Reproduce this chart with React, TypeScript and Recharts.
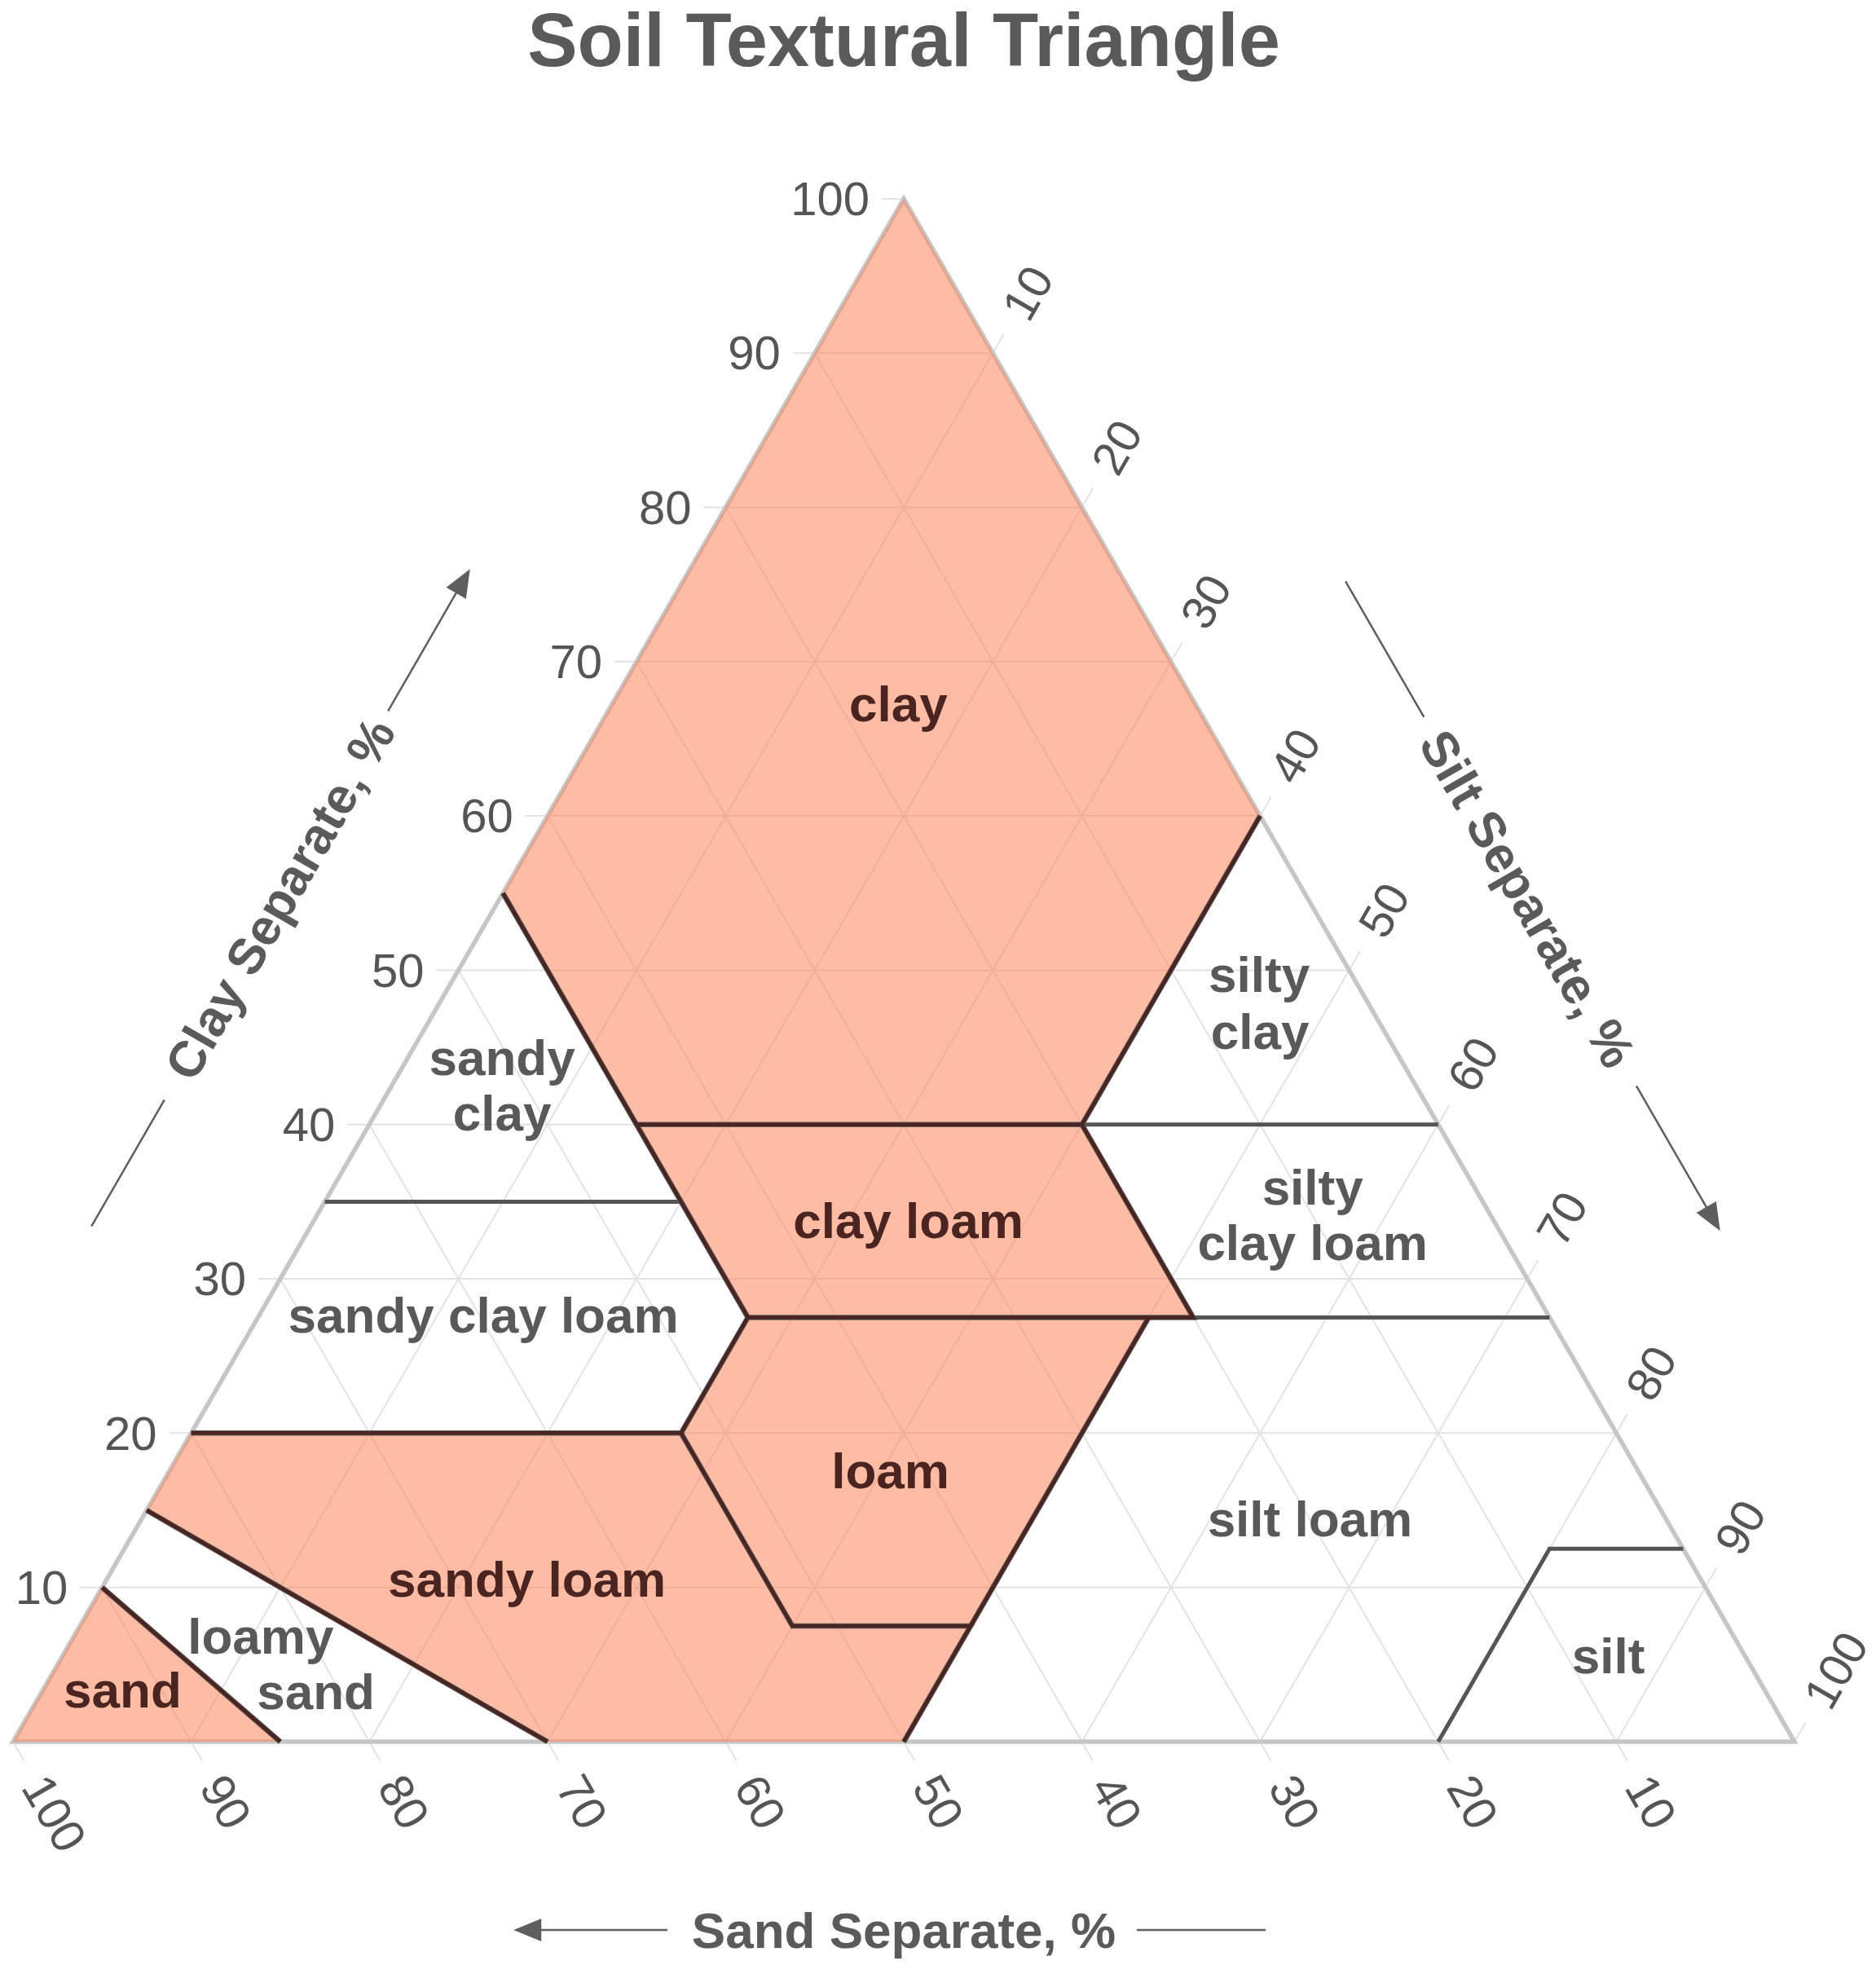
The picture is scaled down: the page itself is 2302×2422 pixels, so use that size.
import React from 'react';
import { ScatterChart, Scatter, XAxis, YAxis } from 'recharts';

// ---------- geometry of the drawing surface ----------
const W = 2302;
const H = 2422;
const LEFT = 16; // px of the sand=100 vertex
const BASE = 2137; // px of the bottom edge
const SIDE = 2186; // px length of a triangle side
const TRI_H = (SIDE * Math.sqrt(3)) / 2;
const UX = SIDE / 100;
const UY = TRI_H / 100;
const X_DOMAIN: [number, number] = [-LEFT / UX, (W - LEFT) / UX];
const Y_DOMAIN: [number, number] = [-(H - BASE) / UY, BASE / UY];

type T = [number, number, number]; // [sand, silt, clay] %
const toXY = (t: T) => ({ x: t[1] + t[2] / 2, y: t[2] });

const FONT = '"Liberation Sans", Arial, Helvetica, sans-serif';
const GRID = '#e3e3e3';
const OUTLINE = '#c6c6c6';
const FILL = '#FB8558';
const BROWN = '#4a2420';
const GREY_LINE = '#555555';
const TEXT = '#555555';

// ---------- data ----------
const tickValues = [10, 20, 30, 40, 50, 60, 70, 80, 90, 100];

const regionNames = [
  'sand', 'loamy sand', 'sandy loam', 'loam', 'silt loam', 'silt',
  'sandy clay loam', 'clay loam', 'silty clay loam', 'sandy clay', 'silty clay', 'clay',
];
const regionShaded = [true, false, true, true, false, false, false, true, false, false, false, true];
const regionVertices: T[][] = [
  [[100, 0, 0], [85, 15, 0], [90, 0, 10]],
  [[85, 15, 0], [70, 30, 0], [85, 0, 15], [90, 0, 10]],
  [[70, 30, 0], [50, 50, 0], [42.5, 50, 7.5], [52.5, 40, 7.5], [52.5, 27.5, 20], [80, 0, 20], [85, 0, 15]],
  [[52.5, 40, 7.5], [42.5, 50, 7.5], [22.5, 50, 27.5], [45, 27.5, 27.5], [52.5, 27.5, 20]],
  [[50, 50, 0], [20, 80, 0], [7.5, 80, 12.5], [0, 87.5, 12.5], [0, 72.5, 27.5], [22.5, 50, 27.5], [42.5, 50, 7.5]],
  [[20, 80, 0], [0, 100, 0], [0, 87.5, 12.5], [7.5, 80, 12.5]],
  [[80, 0, 20], [52.5, 27.5, 20], [45, 27.5, 27.5], [45, 20, 35], [65, 0, 35]],
  [[45, 27.5, 27.5], [20, 52.5, 27.5], [20, 40, 40], [45, 15, 40]],
  [[20, 52.5, 27.5], [0, 72.5, 27.5], [0, 60, 40], [20, 40, 40]],
  [[65, 0, 35], [45, 20, 35], [45, 0, 55]],
  [[20, 40, 40], [0, 60, 40], [0, 40, 60]],
  [[45, 0, 55], [45, 15, 40], [20, 40, 40], [0, 40, 60], [0, 0, 100]],
];
const regionLabelLines: string[][] = [
  ['sand'], ['loamy', 'sand'], ['sandy loam'], ['loam'], ['silt loam'], ['silt'],
  ['sandy clay loam'], ['clay loam'], ['silty', 'clay loam'], ['sandy', 'clay'], ['silty', 'clay'], ['clay'],
];
const regionLabelAt: T[][] = [
  [[92.2, 4.5, 3.3]],
  [[82.7, 10.5, 6.8], [81.4, 15.4, 3.2]],
  [[65.9, 23.6, 10.5]],
  [[42.0, 40.5, 17.5]],
  [[20.0, 65.6, 14.4]],
  [[7.6, 86.8, 5.5]],
  [[59.8, 12.6, 27.6]],
  [[32.9, 33.4, 33.7]],
  [[9.1, 55.0, 35.9], [10.9, 56.8, 32.3]],
  [[50.4, 5.3, 44.3], [52.2, 7.1, 40.7]],
  [[5.2, 45.1, 49.7], [7.1, 47.0, 46.0]],
  [[16.7, 16.1, 67.2]],
];

// interior class boundaries
const brownBoundaries: T[][] = [
  [[85, 15, 0], [90, 0, 10]],
  [[70, 30, 0], [85, 0, 15]],
  [[80, 0, 20], [52.5, 27.5, 20], [52.5, 40, 7.5], [42.5, 50, 7.5], [50, 50, 0]],
  [[52.5, 27.5, 20], [45, 27.5, 27.5], [20, 52.5, 27.5], [20, 40, 40]],
  [[42.5, 50, 7.5], [22.5, 50, 27.5]],
  [[45, 27.5, 27.5], [45, 0, 55]],
  [[45, 15, 40], [20, 40, 40], [0, 40, 60]],
];
const greyBoundaries: T[][] = [
  [[65, 0, 35], [45, 20, 35]],
  [[20, 40, 40], [0, 60, 40]],
  [[20, 52.5, 27.5], [0, 72.5, 27.5]],
  [[20, 80, 0], [7.5, 80, 12.5], [0, 87.5, 12.5]],
];
const outlineVertices: T[] = [[100, 0, 0], [0, 100, 0], [0, 0, 100]];

// annotations (chart-data coordinates: x along the base, y = clay %)
const chartTitle = { x: 50, y: (BASE - 81) / UY, label: 'Soil Textural Triangle' };
const axisTitles = [
  { x: 14.95, y: 54.65, label: 'Clay Separate, %', rot: -60 },
  { x: 85.05, y: 54.65, label: 'Silt Separate, %', rot: 60 },
  { x: 50, y: -12.2, label: 'Sand Separate, %', rot: 0 },
];
const axisArrowLines = [
  { pts: [{ x: 4.4, y: 33.4 }, { x: 8.5, y: 41.6 }], arrow: false },
  { pts: [{ x: 21.05, y: 66.8 }, { x: 25.65, y: 76.0 }], arrow: true },
  { pts: [{ x: 74.8, y: 75.2 }, { x: 79.2, y: 66.4 }], arrow: false },
  { pts: [{ x: 91.125, y: 42.5 }, { x: 95.825, y: 33.1 }], arrow: true },
  { pts: [{ x: 36.73, y: -12.2 }, { x: 28.1, y: -12.2 }], arrow: true },
  { pts: [{ x: 63.08, y: -12.2 }, { x: 70.31, y: -12.2 }], arrow: false },
];

// ---------- derived series ----------
const EXT = 27 / UX;
const gridLines = tickValues.flatMap((v) => [
  [toXY([0, 100 - v, v]), toXY([100 - v + EXT, -EXT, v])],
  [toXY([100 - v, v, 0]), toXY([-EXT, v, 100 - v + EXT])],
  [toXY([v, 0, 100 - v]), toXY([v, 100 - v + EXT, -EXT])],
]);
const clayTicks = tickValues.map((v) => ({ ...toXY([100 - v, 0, v]), label: String(v) }));
const siltTicks = tickValues.map((v) => ({ ...toXY([0, v, 100 - v]), label: String(v) }));
const sandTicks = tickValues.map((v) => ({ ...toXY([v, 100 - v, 0]), label: String(v) }));
const regionLabels = regionNames.flatMap((name, i) =>
  regionLabelLines[i].map((txt, j) => ({ ...toXY(regionLabelAt[i][j]), label: txt, shaded: regionShaded[i], region: name }))
);

// ---------- renderers ----------
type P = { x: number; y: number };
const pathOf = (pts: P[], close: boolean) =>
  pts.map((p, i) => `${i ? 'L' : 'M'}${p.x.toFixed(2)},${p.y.toFixed(2)}`).join(' ') + (close ? ' Z' : '');

const lineRenderer =
  (o: { fill?: string; fillOpacity?: number; stroke?: string; strokeWidth?: number; close?: boolean; arrow?: boolean }) =>
  (props: any) => {
    const pts: P[] = (props.points || []).filter((p: any) => p && p.x != null && p.y != null);
    if (pts.length < 2) return <g />;
    let linePts = pts;
    let head: React.ReactNode = null;
    if (o.arrow) {
      const a = pts[pts.length - 2];
      const b = pts[pts.length - 1];
      const len = Math.hypot(b.x - a.x, b.y - a.y) || 1;
      const ux = (b.x - a.x) / len;
      const uy = (b.y - a.y) / len;
      const HL = 34;
      const HW = 14;
      const bx = b.x - ux * HL;
      const by = b.y - uy * HL;
      linePts = [...pts.slice(0, -1), { x: bx + ux * 2, y: by + uy * 2 }];
      head = (
        <polygon
          points={`${b.x},${b.y} ${bx - uy * HW},${by + ux * HW} ${bx + uy * HW},${by - ux * HW}`}
          fill={o.stroke}
        />
      );
    }
    return (
      <g>
        <path
          d={pathOf(linePts, !!o.close)}
          fill={o.fill || 'none'}
          fillOpacity={o.fillOpacity ?? 1}
          stroke={o.stroke || 'none'}
          strokeWidth={o.strokeWidth || 0}
          strokeLinejoin="miter"
          strokeLinecap="butt"
        />
        {head}
      </g>
    );
  };

const noShape = () => <g />;

const clayTickShape = (p: any) => (
  <text x={p.cx - 42} y={p.cy} dy="0.35em" textAnchor="end" fontFamily={FONT} fontSize={58} fill={TEXT}>
    {p.payload.label}
  </text>
);
const siltTickShape = (p: any) => {
  const x = p.cx + 53 * 0.5;
  const y = p.cy - 53 * 0.866;
  return (
    <text x={x} y={y} dy="0.35em" transform={`rotate(-60 ${x} ${y})`} textAnchor="start" fontFamily={FONT} fontSize={58} fill={TEXT}>
      {p.payload.label}
    </text>
  );
};
const sandTickShape = (p: any) => {
  const x = p.cx + 53 * 0.5;
  const y = p.cy + 53 * 0.866;
  return (
    <text x={x} y={y} dy="0.35em" transform={`rotate(60 ${x} ${y})`} textAnchor="start" fontFamily={FONT} fontSize={58} fill={TEXT}>
      {p.payload.label}
    </text>
  );
};
const regionLabelShape = (p: any) => (
  <text
    x={p.cx}
    y={p.cy}
    dy="0.33em"
    textAnchor="middle"
    fontFamily={FONT}
    fontWeight="bold"
    fontSize={62}
    fill={p.payload.shaded ? BROWN : '#595959'}
  >
    {p.payload.label}
  </text>
);
const axisTitleShape = (p: any) => (
  <text
    x={p.cx}
    y={p.cy}
    dy="0.36em"
    transform={`rotate(${p.payload.rot} ${p.cx} ${p.cy})`}
    textAnchor="middle"
    fontFamily={FONT}
    fontWeight="bold"
    fontSize={62}
    fill="#5a5a5a"
  >
    {p.payload.label}
  </text>
);
const chartTitleShape = (p: any) => (
  <text x={p.cx} y={p.cy} textAnchor="middle" fontFamily={FONT} fontWeight="bold" fontSize={92} fill="#5a5a5a">
    {p.payload.label}
  </text>
);

export default function App() {
  return (
    <div style={{ position: 'absolute', left: 0, top: 0, background: '#ffffff' }}>
      <ScatterChart width={W} height={H} margin={{ top: 0, right: 0, bottom: 0, left: 0 }}>
        <XAxis type="number" dataKey="x" domain={X_DOMAIN} allowDataOverflow hide />
        <YAxis type="number" dataKey="y" domain={Y_DOMAIN} allowDataOverflow hide />

        {gridLines.map((g, i) => (
          <Scatter key={`grid-${i}`} data={g} isAnimationActive={false} shape={noShape}
            line={lineRenderer({ stroke: GRID, strokeWidth: 2 })} />
        ))}

        <Scatter data={outlineVertices.map(toXY)} isAnimationActive={false} shape={noShape}
          line={lineRenderer({ stroke: OUTLINE, strokeWidth: 5.5, close: true })} />

        {regionVertices.map((v, i) =>
          regionShaded[i] ? (
            <Scatter key={`fill-${i}`} name={regionNames[i]} data={v.map(toXY)} isAnimationActive={false} shape={noShape}
              line={lineRenderer({ fill: FILL, fillOpacity: 0.55, close: true })} />
          ) : null
        )}

        {greyBoundaries.map((b, i) => (
          <Scatter key={`gb-${i}`} data={b.map(toXY)} isAnimationActive={false} shape={noShape}
            line={lineRenderer({ stroke: GREY_LINE, strokeWidth: 5 })} />
        ))}
        {brownBoundaries.map((b, i) => (
          <Scatter key={`bbg-${i}`} data={b.map(toXY)} isAnimationActive={false} shape={noShape}
            line={lineRenderer({ stroke: '#5c5c5c', strokeWidth: 6.5 })} />
        ))}
        {brownBoundaries.map((b, i) => (
          <Scatter key={`bb-${i}`} data={b.map(toXY)} isAnimationActive={false} shape={noShape}
            line={lineRenderer({ stroke: BROWN, strokeWidth: 4.5 })} />
        ))}

        {axisArrowLines.map((a, i) => (
          <Scatter key={`arr-${i}`} data={a.pts} isAnimationActive={false} shape={noShape}
            line={lineRenderer({ stroke: '#5e5e5e', strokeWidth: 2.5, arrow: a.arrow })} />
        ))}

        <Scatter data={clayTicks} isAnimationActive={false} shape={clayTickShape} />
        <Scatter data={siltTicks} isAnimationActive={false} shape={siltTickShape} />
        <Scatter data={sandTicks} isAnimationActive={false} shape={sandTickShape} />
        <Scatter data={regionLabels} isAnimationActive={false} shape={regionLabelShape} />
        <Scatter data={axisTitles} isAnimationActive={false} shape={axisTitleShape} />
        <Scatter data={[chartTitle]} isAnimationActive={false} shape={chartTitleShape} />
      </ScatterChart>
    </div>
  );
}
